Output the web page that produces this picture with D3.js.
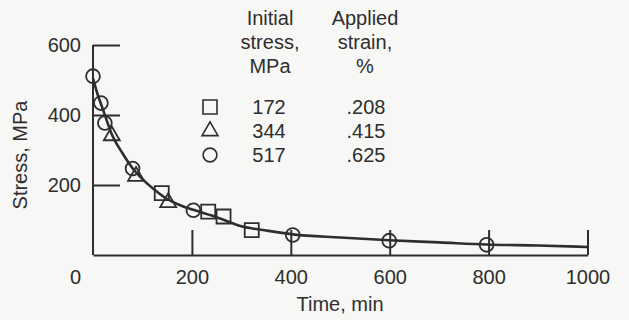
<!DOCTYPE html>
<html>
<head>
<meta charset="utf-8">
<script src="https://cdn.jsdelivr.net/npm/d3@7"></script>
<style>
  body { margin: 0; background: #f7f7f5; }
  svg text { font-family: "Liberation Sans", Arial, sans-serif; fill: #2e2e2e; }
</style>
</head>
<body>
<script>
// data (time in min, stress in MPa)
var circles517 = [[0, 511], [16, 434], [24, 377], [80, 247], [203, 128], [404, 57], [599, 41], [796, 29]];
var triangles344 = [[38, 341], [87, 225], [152, 150]];
var squares172 = [[139, 177], [233, 124], [264, 110], [321, 71]];
var curve = [[0, 505], [8, 465], [16, 432], [24, 400], [38, 345], [60, 290], [80, 248], [100, 217],
             [125, 186], [150, 160], [175, 143], [203, 129], [250, 108], [300, 82], [350, 70],
             [404, 59], [500, 50], [599, 42], [700, 36], [796, 30], [900, 27], [1000, 23]];
var xTicks = [0, 200, 400, 600, 800, 1000];
var yTicks = [200, 400, 600];
var legendStress = [172, 344, 517];
var legendStrain = [".208", ".415", ".625"];
var legendSymbols = ["square", "triangle", "circle"];

var width = 629, height = 320;
var svg = d3.select("body").append("svg")
    .attr("width", width)
    .attr("height", height);

var x = d3.scaleLinear().domain([0, 1000]).range([93, 587.5]);
var y = d3.scaleLinear().domain([0, 600]).range([255, 45]);

var ink = "#2e2e2e";
var fs = "20px";

// axes
var yAxis = d3.axisLeft(y).tickValues(yTicks).tickSizeInner(-27).tickSizeOuter(0).tickPadding(12);
var gy = svg.append("g").attr("transform", "translate(93,0)").call(yAxis);
gy.select(".domain").attr("stroke", ink).attr("stroke-width", 2).attr("d", "M0," + y(600) + "V" + y(0));
gy.selectAll(".tick line").attr("stroke", ink).attr("stroke-width", 2);
gy.selectAll(".tick text").style("font-size", fs).attr("fill", ink);

var xAxis = d3.axisBottom(x).tickValues(xTicks).tickFormat(d3.format("d"))
  .tickSizeInner(-25).tickSizeOuter(0).tickPadding(15);
var gx = svg.append("g").attr("transform", "translate(0,255)").call(xAxis);
gx.select(".domain").attr("stroke", ink).attr("stroke-width", 2);
gx.selectAll(".tick line").attr("stroke", ink).attr("stroke-width", 2)
  .attr("opacity", function(d) { return d === 0 ? 0 : 1; });
gx.selectAll(".tick text").style("font-size", fs).attr("fill", ink)
  .attr("dx", function(d) { return d === 0 ? -18 : 0; });

// axis titles
svg.append("text")
  .attr("transform", "translate(27,155) rotate(-90)")
  .attr("text-anchor", "middle")
  .style("font-size", fs)
  .text("Stress, MPa");
svg.append("text")
  .attr("x", 340).attr("y", 311)
  .attr("text-anchor", "middle")
  .style("font-size", fs)
  .text("Time, min");

// fitted curve
var line = d3.line()
  .x(function(d) { return x(d[0]); })
  .y(function(d) { return y(d[1]); })
  .curve(d3.curveMonotoneX);
svg.append("path")
  .datum(curve)
  .attr("d", line)
  .attr("fill", "none")
  .attr("stroke", ink)
  .attr("stroke-width", 2.6);

// markers
var sym = {
  circle: d3.symbol().type(d3.symbolCircle).size(150),
  square: d3.symbol().type(d3.symbolSquare).size(196),
  triangle: d3.symbol().type(d3.symbolTriangle).size(110)
};
function drawMarks(data, kind) {
  svg.append("g").selectAll("path")
    .data(data)
    .enter()
    .append("path")
    .attr("transform", function(d) { return "translate(" + x(d[0]) + "," + y(d[1]) + ")"; })
    .attr("d", sym[kind])
    .attr("fill", "none")
    .attr("stroke", ink)
    .attr("stroke-width", 1.8);
}
drawMarks(squares172, "square");
drawMarks(triangles344, "triangle");
drawMarks(circles517, "circle");

// legend
var head = svg.append("g").style("font-size", fs).attr("text-anchor", "middle");
["Initial", "stress,", "MPa"].forEach(function(t, i) {
  head.append("text").attr("x", 270).attr("y", 25 + i * 24).text(t);
});
["Applied", "strain,", "%"].forEach(function(t, i) {
  head.append("text").attr("x", 365).attr("y", 25 + i * 24).text(t);
});

var rows = svg.append("g").selectAll("g")
  .data(legendStress)
  .enter()
  .append("g")
  .attr("transform", function(d, i) { return "translate(0," + (107 + i * 24) + ")"; });
rows.append("path")
  .attr("transform", "translate(210,0)")
  .attr("d", function(d, i) { return sym[legendSymbols[i]](); })
  .attr("fill", "none")
  .attr("stroke", ink)
  .attr("stroke-width", 1.6);
rows.append("text")
  .attr("x", 269).attr("y", 7)
  .attr("text-anchor", "middle")
  .style("font-size", fs)
  .text(function(d) { return d; });
rows.append("text")
  .attr("x", 366).attr("y", 7)
  .attr("text-anchor", "middle")
  .style("font-size", fs)
  .text(function(d, i) { return legendStrain[i]; });
</script>
</body>
</html>
